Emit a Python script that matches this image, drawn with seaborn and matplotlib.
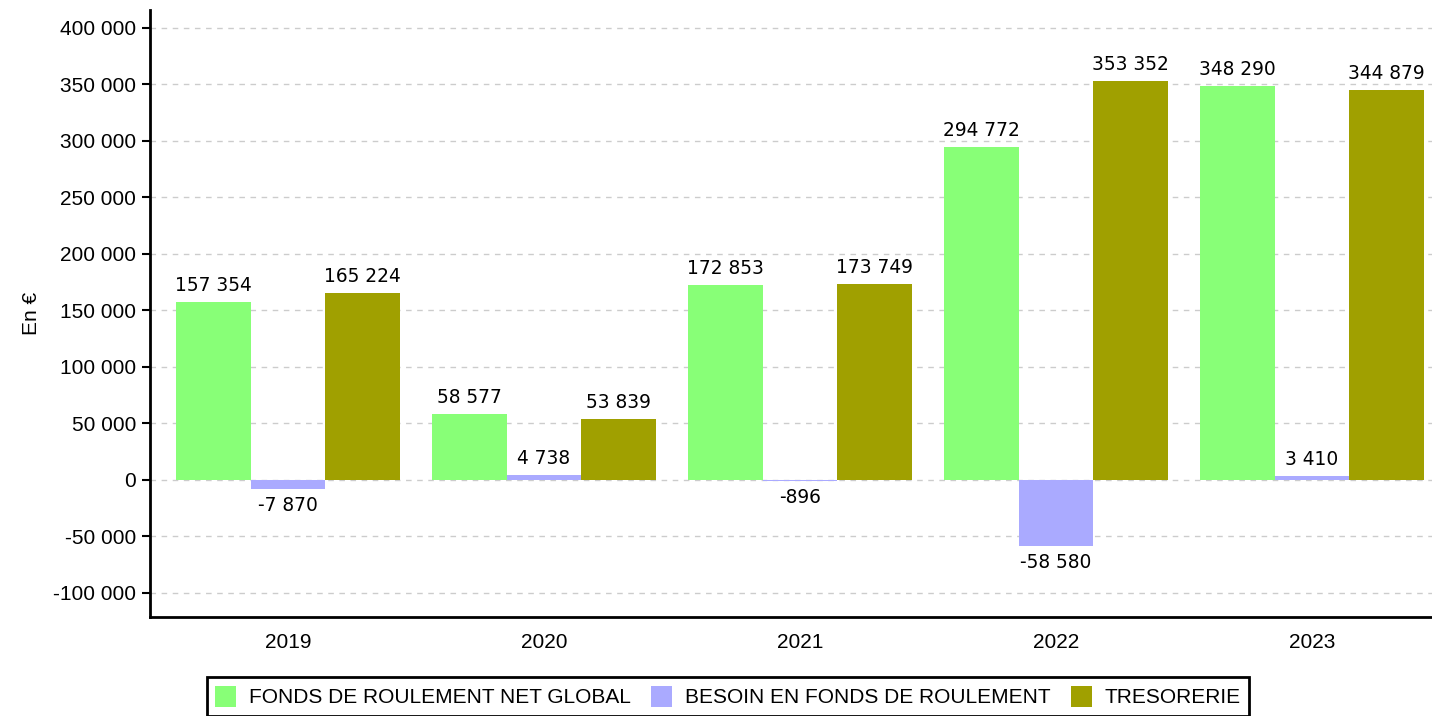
import matplotlib
matplotlib.use("Agg")
import matplotlib.pyplot as plt
import seaborn as sns
import pandas as pd

years = ["2019", "2020", "2021", "2022", "2023"]
series = ["FONDS DE ROULEMENT NET GLOBAL", "BESOIN EN FONDS DE ROULEMENT", "TRESORERIE"]
frng = [157354, 58577, 172853, 294772, 348290]
bfr = [-7870, 4738, -896, -58580, 3410]
treso = [165224, 53839, 173749, 353352, 344879]
colors = ["#88ff77", "#aaaaff", "#a0a000"]
yticks = list(range(-100000, 400001, 50000))

rows = []
for name, vals in zip(series, [frng, bfr, treso]):
    for y, v in zip(years, vals):
        rows.append({"year": y, "serie": name, "value": v})
df = pd.DataFrame(rows)

sns.set_style("white")
plt.rcParams["font.family"] = ["Liberation Sans", "DejaVu Sans"]
plt.rcParams["text.color"] = "black"
plt.rcParams["axes.labelcolor"] = "black"
plt.rcParams["xtick.color"] = "black"
plt.rcParams["ytick.color"] = "black"

fig = plt.figure(figsize=(14.32, 7.16), dpi=100)
ax = fig.add_axes([150/1432, 1-617/716, 1-150/1432, (617-10)/716])

sns.barplot(data=df, x="year", y="value", hue="serie", hue_order=series,
            palette=colors, width=0.875, gap=0, saturation=1, ax=ax,
            errorbar=None, legend=False, linewidth=0)

def fmt(v):
    s = f"{abs(v):,}".replace(",", " ")
    return ("-" if v < 0 else "") + s

for cont, vals in zip(ax.containers, [frng, bfr, treso]):
    ax.bar_label(cont, labels=[fmt(v) for v in vals], padding=5,
                 fontsize=13.4, family="DejaVu Sans", color="black")

ax.set_ylim(-121239, 415929)
ax.set_xlim(-138/256, 4 + 120/256)
ax.set_yticks(yticks)
ax.set_yticklabels([fmt(t) for t in yticks], fontsize=15)
ax.tick_params(axis="y", which="both", left=True, length=6, width=1.5, color="black", pad=4, labelcolor="black")
ax.tick_params(axis="x", bottom=False, labelsize=15, pad=8, labelcolor="black")
ax.yaxis.grid(True, linestyle=(0, (4, 4)), color="#cccccc", linewidth=1)
ax.set_axisbelow(True)
ax.set_xlabel("")
ax.set_ylabel("En €", fontsize=15, labelpad=9, color="black")
for s in ["top", "right"]:
    ax.spines[s].set_visible(False)
for s in ["left", "bottom"]:
    ax.spines[s].set_color("black")
    ax.spines[s].set_linewidth(2)

from matplotlib.patches import Patch
handles = [Patch(facecolor=c, edgecolor="none") for c in colors]
leg = fig.legend(handles, series, loc="upper center", ncol=3,
                 bbox_to_anchor=(728/1432, 1-667/716), frameon=True,
                 fancybox=False, edgecolor="black", framealpha=1, fontsize=15,
                 handlelength=1.0, handleheight=1.2, handletextpad=0.6,
                 columnspacing=1.0, borderpad=0.4, labelcolor="black")
leg.get_frame().set_linewidth(2)

fig.savefig("out.png", dpi=100)
